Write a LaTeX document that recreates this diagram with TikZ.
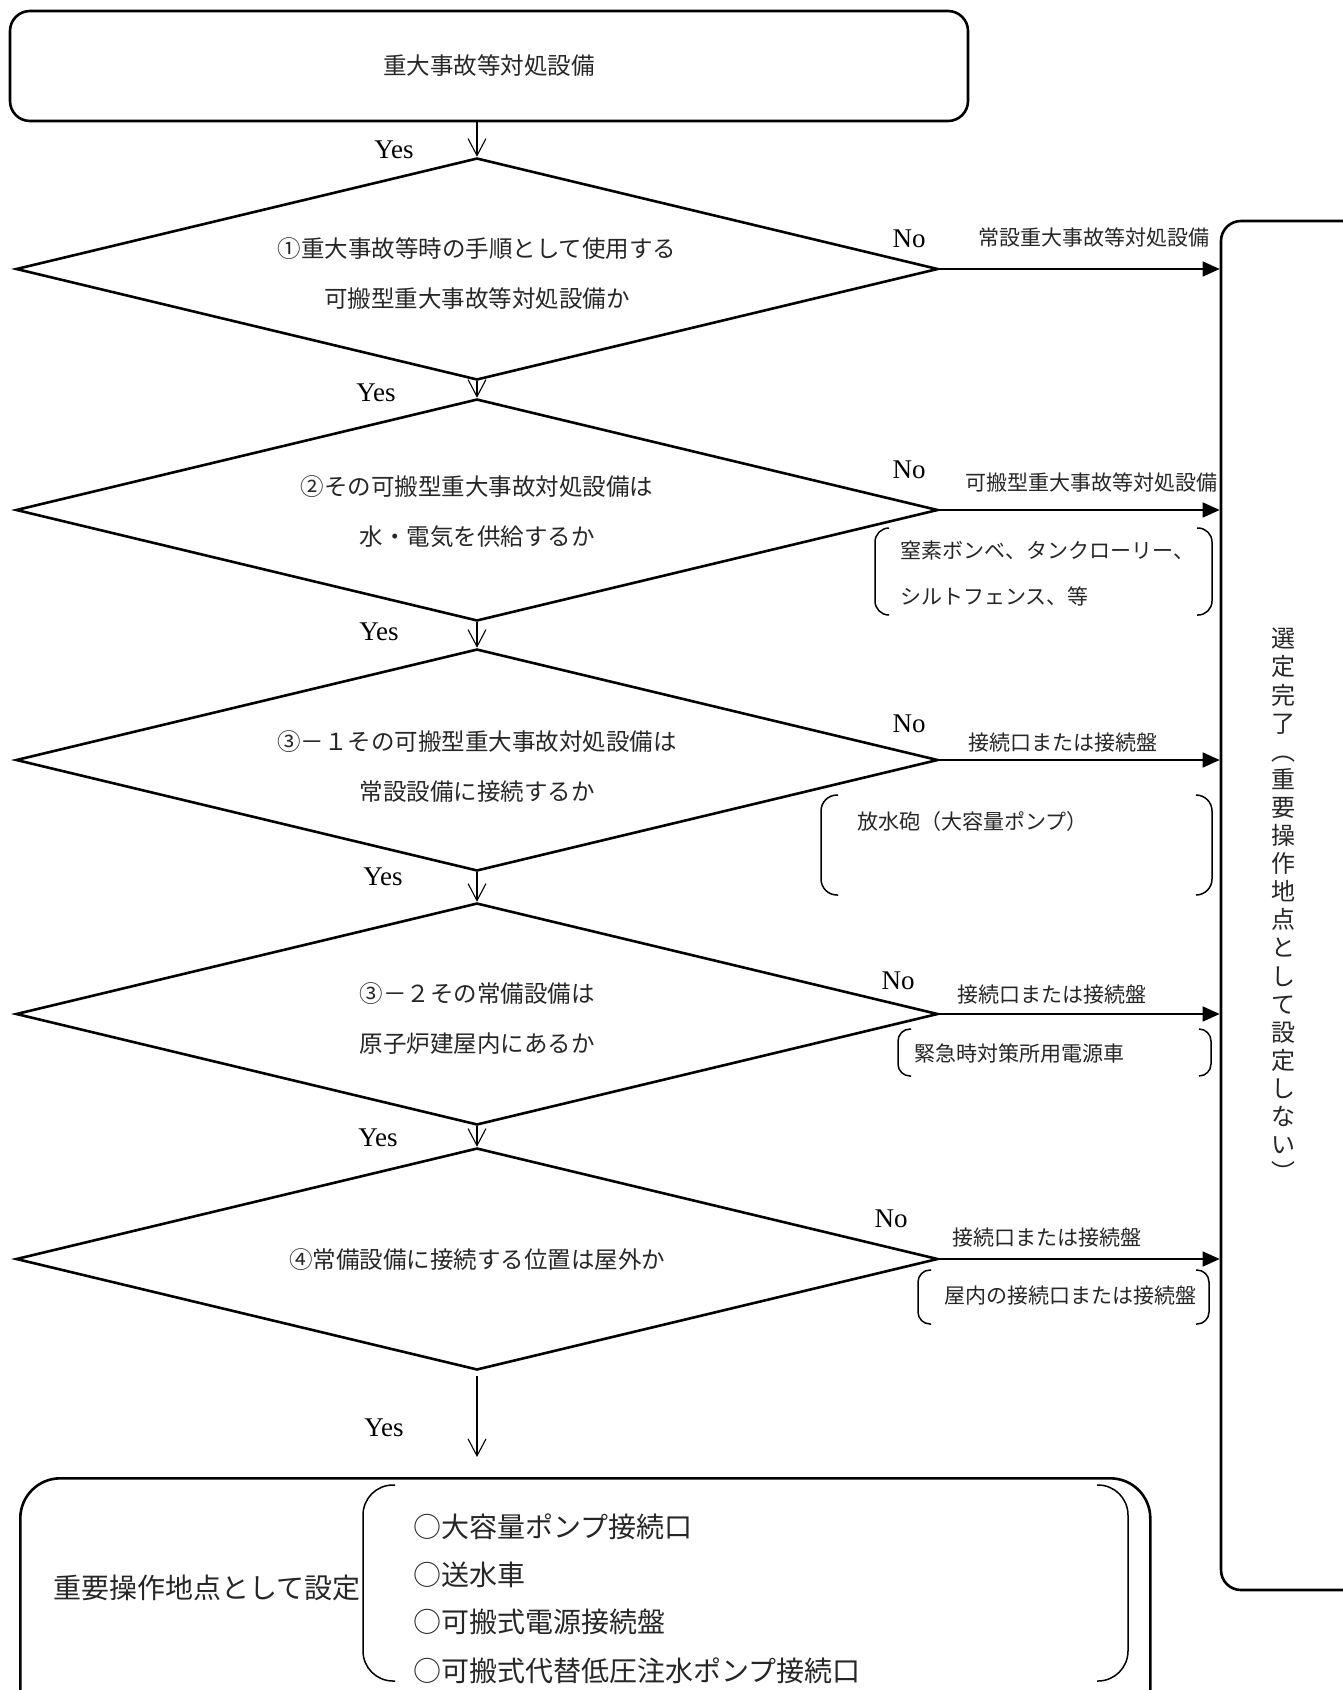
\documentclass[tikz,border=0pt]{standalone}
\usepackage{fontspec}
\setmainfont{Liberation Serif}
\newfontfamily\jp{Noto Sans CJK JP}
\usetikzlibrary{shapes.geometric,arrows.meta}
\begin{document}
\begin{tikzpicture}[x=1pt,y=-1pt,
  rbox/.style={draw, line width=2.6pt, inner sep=0pt},
  dia/.style={draw, diamond, line width=2.6pt, minimum width=922pt, minimum height=222pt,
              aspect=4.15, inner sep=0pt},
  diatext/.style={align=center, inner sep=0pt, text=black!85,
              font=\jp\fontsize{23.5}{50}\selectfont},
  yesarrow/.style={-{Straight Barb[length=17pt,width=18pt]}, line width=1.1pt},
  noarrow/.style={-{Triangle[length=17pt,width=15pt]}, line width=1.5pt},
  yn/.style={font=\fontsize{27}{30}\selectfont, inner sep=0pt},
  arrlab/.style={font=\jp\fontsize{21}{25}\selectfont, inner sep=0pt, text=black!85},
  brtext/.style={font=\jp\fontsize{21}{46}\selectfont, inner sep=0pt, anchor=west, align=left, text=black!85},
  bigtext/.style={font=\jp\fontsize{28}{48}\selectfont, inner sep=0pt, anchor=west, align=left, text=black!85},
  bracket/.style={line width=1.5pt}
]
\useasboundingbox (0,0) rectangle (1343,1690);

% start box
\node[rbox, rounded corners=20pt, minimum width=958pt, minimum height=110pt,
      font=\jp\fontsize{23.5}{28}\selectfont, text=black!85] (start) at (489,66) {重大事故等対処設備};

% right box
\node[rbox, rounded corners=20pt, minimum width=160pt, minimum height=1369pt] (done) at (1301,905.5) {};
\node[font=\jp\fontsize{24}{28.1}\selectfont, align=center, inner sep=0pt, text=black!85] (donetext) at (1283,905)
  {選\\定\\完\\了\\︵\\重\\要\\操\\作\\地\\点\\と\\し\\て\\設\\定\\し\\な\\い\\︶};

% bottom box
\node[rbox, rounded corners=40pt, minimum width=1130pt, minimum height=260pt, anchor=north west] (set) at (19,1477) {};
\node[bigtext] (settext) at (53,1588) {重要操作地点として設定};
\draw[bracket, rounded corners=30pt] (395,1485) -- (363,1485) -- (363,1681) -- (395,1681);
\draw[bracket, rounded corners=30pt] (1097,1485) -- (1128,1485) -- (1128,1681) -- (1097,1681);
\node[bigtext] (it1) at (413,1527) {○大容量ポンプ接続口};
\node[bigtext] (it2) at (413,1575) {○送水車};
\node[bigtext] (it3) at (413,1622) {○可搬式電源接続盤};
\node[bigtext] (it4) at (413,1671) {○可搬式代替低圧注水ポンプ接続口};

% diamonds
\node[dia] (d1) at (477,269) {};
\node[dia] (d2) at (477,510) {};
\node[dia] (d3) at (477,760) {};
\node[dia] (d4) at (477,1014) {};
\node[dia] (d5) at (477,1259) {};
\node[diatext] (t1) at ([yshift=-5pt]d1.center) {①重大事故等時の手順として使用する\\可搬型重大事故等対処設備か};
\node[diatext] (t2) at ([yshift=-2pt]d2.center) {②その可搬型重大事故対処設備は\\水・電気を供給するか};
\node[diatext] (t3) at ([yshift=-6pt]d3.center) {③－１その可搬型重大事故対処設備は\\常設設備に接続するか};
\node[diatext] (t4) at ([yshift=-5pt]d4.center) {③－２その常備設備は\\原子炉建屋内にあるか};
\node[diatext] (t5) at ([yshift=-1pt]d5.center) {④常備設備に接続する位置は屋外か};

% yes arrows
\draw[yesarrow] (d1.north |- start.south) -- (d1.north);
\draw[yesarrow] (d1.south) -- (d2.north);
\draw[yesarrow] (d2.south) -- (d3.north);
\draw[yesarrow] (d3.south) -- (d4.north);
\draw[yesarrow] (d4.south) -- (d5.north);
\coordinate (yesend) at (477,1457);
\draw[yesarrow] ([yshift=-5pt]d5.south) -- (yesend);

\node[yn] (y0) at (394,150) {Yes};
\node[yn] (y1) at (376,393) {Yes};
\node[yn] (y2) at (379,632) {Yes};
\node[yn] (y3) at (383,877) {Yes};
\node[yn] (y4) at (378,1138) {Yes};
\node[yn] (y5) at (384,1428) {Yes};

% no arrows
\draw[noarrow] (d1.east) -- (d1.east -| done.west);
\draw[noarrow] (d2.east) -- (d2.east -| done.west);
\draw[noarrow] (d3.east) -- (d3.east -| done.west);
\draw[noarrow] (d4.east) -- (d4.east -| done.west);
\draw[noarrow] (d5.east) -- (d5.east -| done.west);

\node[yn] (n1) at (909,239) {No};
\node[yn] (n2) at (909,470) {No};
\node[yn] (n3) at (909,724) {No};
\node[yn] (n4) at (898,981) {No};
\node[yn] (n5) at (891,1219) {No};

\node[arrlab] (l1) at (1094,237) {常設重大事故等対処設備};
\node[arrlab] (l2) at (1091,482) {可搬型重大事故等対処設備};
\node[arrlab] (l3) at (1063,742) {接続口または接続盤};
\node[arrlab] (l4) at (1052,994) {接続口または接続盤};
\node[arrlab] (l5) at (1047,1237) {接続口または接続盤};

% brackets
\draw[bracket, rounded corners=14pt] (889,528) -- (875,528) -- (875,615) -- (889,615);
\draw[bracket, rounded corners=14pt] (1197,528) -- (1212,528) -- (1212,615) -- (1197,615);
\node[brtext] (b2) at (900,573) {窒素ボンベ、タンクローリー、\\シルトフェンス、等};

\draw[bracket, rounded corners=16pt] (838,795) -- (821,795) -- (821,895) -- (838,895);
\draw[bracket, rounded corners=16pt] (1196,795) -- (1212,795) -- (1212,895) -- (1196,895);
\node[brtext] (b3) at (857,822) {放水砲（大容量ポンプ）};

\draw[bracket, rounded corners=12pt] (911,1029) -- (898,1029) -- (898,1076) -- (911,1076);
\draw[bracket, rounded corners=12pt] (1199,1029) -- (1211,1029) -- (1211,1076) -- (1199,1076);
\node[brtext] (b4) at (914,1054) {緊急時対策所用電源車};

\draw[bracket, rounded corners=12pt] (931,1270) -- (918,1270) -- (918,1324) -- (931,1324);
\draw[bracket, rounded corners=12pt] (1196,1270) -- (1209,1270) -- (1209,1324) -- (1196,1324);
\node[brtext] (b5) at (944,1296) {屋内の接続口または接続盤};
\end{tikzpicture}
\end{document}
